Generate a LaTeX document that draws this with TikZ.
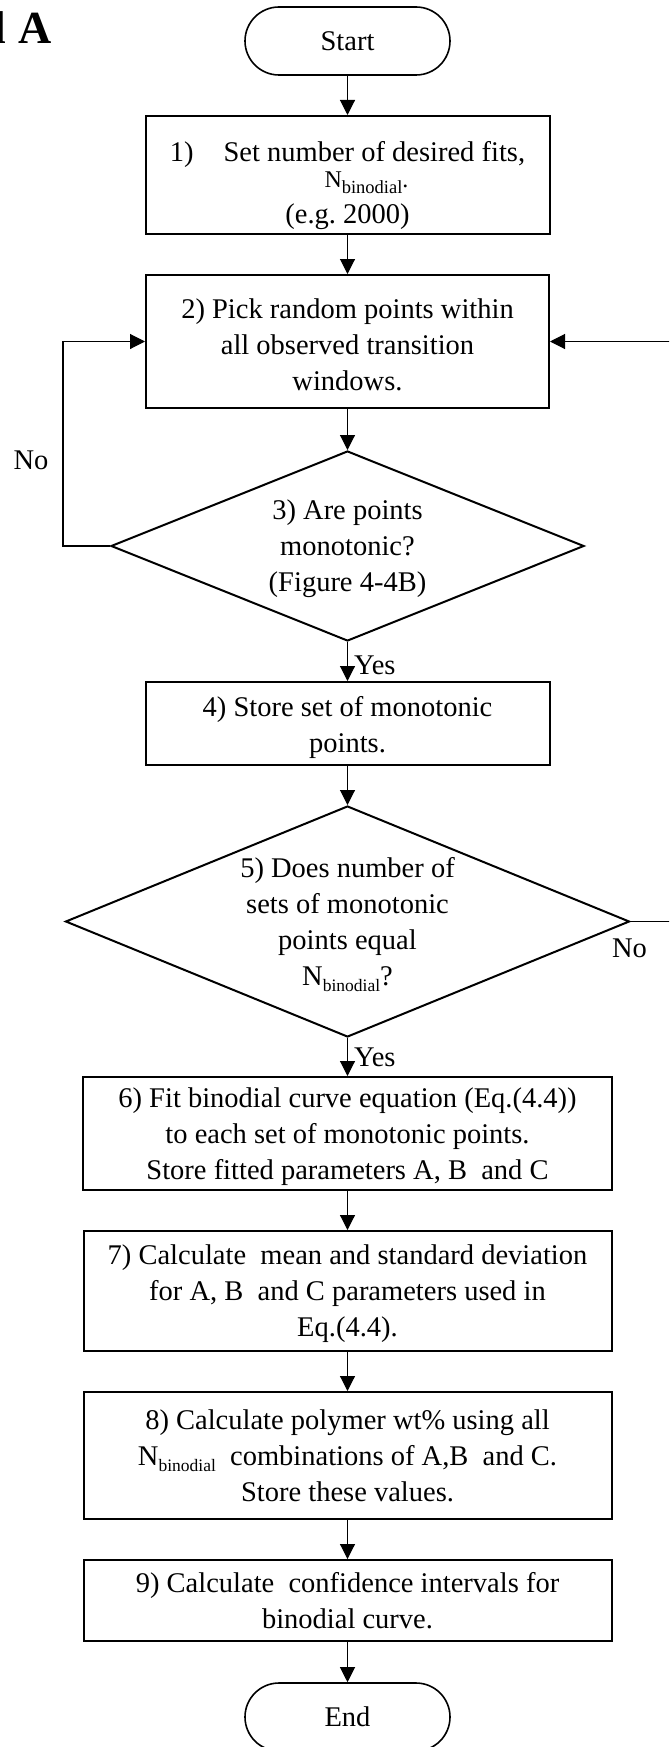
\documentclass[tikz,border=0pt]{standalone}
\usepackage{fontspec}
\setmainfont{Liberation Serif}
\usetikzlibrary{arrows.meta,shapes.geometric}

% lowered, smaller text for subscripts such as N_binodial
\newcommand\nsub[2][17.5]{\raisebox{-6pt}{\fontsize{#1}{#1}\selectfont #2}}
\newcommand\Nbin{N\nsub{binodial}}
% invisible strut that lowers a box's text block slightly
\newcommand\topstrut[1][26pt]{\rule{0pt}{#1}}

\begin{document}
\begin{tikzpicture}[x=1pt,y=-1pt,
  every node/.style={font=\fontsize{28.5}{36}\selectfont, inner sep=0pt},
  procbox/.style={draw, rectangle, line width=2pt, align=center},
  terminal/.style={draw, rectangle, line width=1.6pt, rounded corners=34pt,
                   minimum width=205pt, minimum height=68pt},
  decision/.style={draw, diamond, line width=2pt},
  txt/.style={align=center},
  lbl/.style={},
  flow/.style={line width=1.1pt, -{Triangle[width=15pt,length=15pt]}}
]
\path[use as bounding box, fill=white] (0,0) rectangle (669,1747);
\clip (0,0) rectangle (669,1747);

% panel letter
\node[font=\fontsize{46}{46}\selectfont\bfseries, anchor=base west] (panel) at (-6.3,44) {l A};

% flow chart elements
\node[terminal] (start) at (347.5,41) {Start};

\node[procbox, minimum width=404pt, minimum height=118pt] (s1) at (347.5,175)
  {\topstrut[42pt]1)\hspace{30pt}Set number of desired fits,\\[-10pt]
   \hspace*{38pt}{\fontsize{24}{26}\selectfont N\nsub[18.5]{binodial}.}\\[0pt]
   (e.g.~2000)};

\node[procbox, minimum width=403pt, minimum height=133pt] (s2) at (347.5,341.5)
  {\topstrut 2) Pick random points within\\all observed transition\\windows.};

\node[decision, minimum width=473pt, minimum height=190pt] (q3) at (347.5,546) {};
\node[txt] (q3t) at (347.5,549) {3) Are points\\monotonic?\\(Figure 4-4B)};

\node[procbox, minimum width=404pt, minimum height=83pt] (s4) at (347.5,723.5)
  {\topstrut[28pt]4) Store set of monotonic\\points.};

\node[decision, minimum width=564pt, minimum height=231pt] (q5) at (347.5,921.5) {};
\node[txt] (q5t) at (347.5,925) {5) Does number of\\sets of monotonic\\points equal\\\Nbin?};

\node[procbox, minimum width=529pt, minimum height=113pt] (s6) at (347.5,1133.5)
  {\topstrut 6) Fit binodial curve equation (Eq.(4.4))\\to each set of monotonic points.\\Store fitted parameters A, B\ \ and C};

\node[procbox, minimum width=528pt, minimum height=120pt] (s7) at (347.5,1291)
  {\topstrut 7) Calculate\ \ mean and standard deviation\\for A, B\ \ and C parameters used in\\Eq.(4.4).};

\node[procbox, minimum width=528pt, minimum height=127pt] (s8) at (347.5,1455.5)
  {8) Calculate polymer wt\% using all\\\Nbin\ \ combinations of A,B\ \ and C.\\Store these values.};

\node[procbox, minimum width=528pt, minimum height=81pt] (s9) at (347.5,1600.5)
  {9) Calculate\ \ confidence intervals for\\binodial curve.};

\node[terminal] (end) at (347.5,1717) {End};

% bends of the two return loops
\coordinate (bendL) at (63,546);
\coordinate (bendR) at (690,921.5);

% connectors
\draw[flow] (start) -- (s1);
\draw[flow] (s1) -- (s2);
\draw[flow] (s2) -- (q3);
\draw[flow] (q3) -- node[lbl, pos=0.6, right=6pt] (yes3) {Yes} (s4);
\draw[flow] (s4) -- (q5);
\draw[flow] (q5) -- node[lbl, pos=0.5, right=6pt] (yes5) {Yes} (s6);
\draw[flow] (s6) -- (s7);
\draw[flow] (s7) -- (s8);
\draw[flow] (s8) -- (s9);
\draw[flow] (s9) -- (end);

\draw[flow] (q3.west) -- (bendL) |- (s2.west);
\draw[flow] (q5.east) -- (bendR) |- (s2.east);

\node[lbl] (no3) at (31,460) {No};
\node[lbl] (no5) at (629.5,948.5) {No};
\end{tikzpicture}
\end{document}
